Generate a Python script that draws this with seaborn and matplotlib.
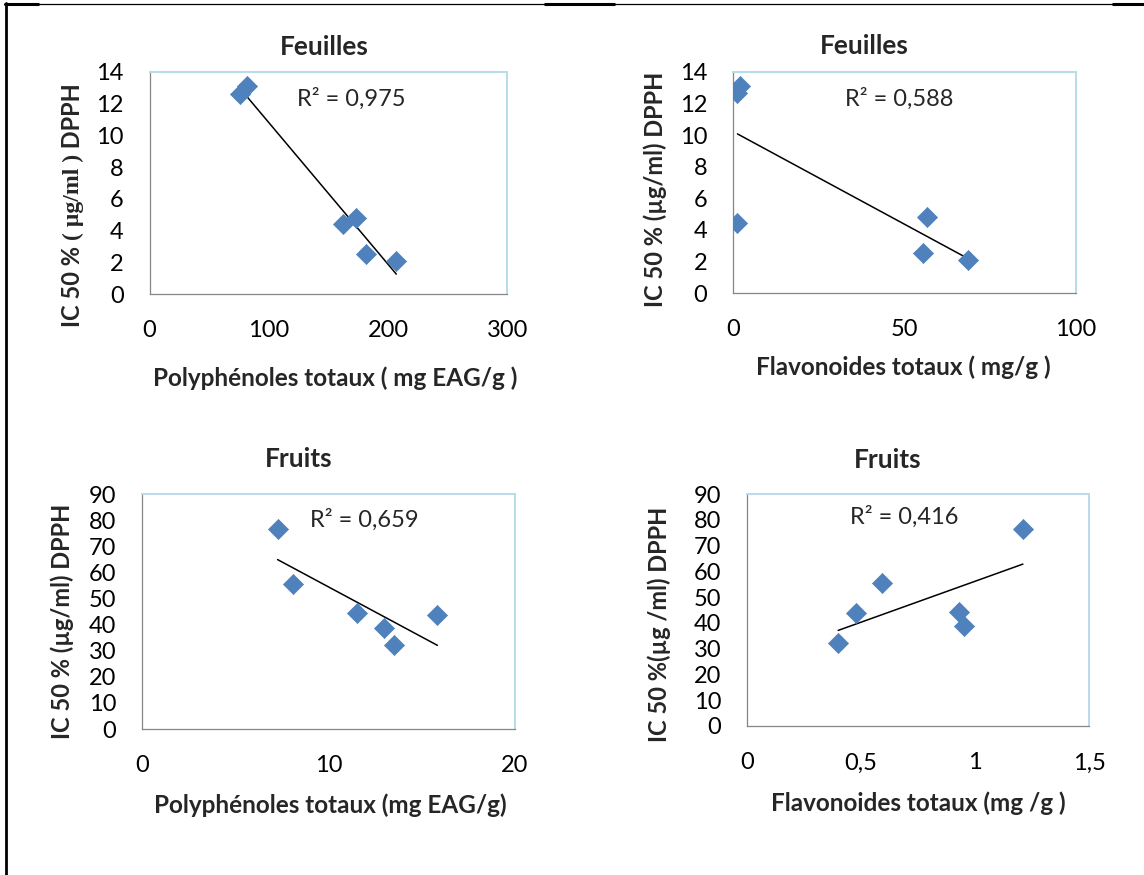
import numpy as np
import pandas as pd
import matplotlib
matplotlib.use("Agg")
import matplotlib.pyplot as plt
from matplotlib.lines import Line2D
import seaborn as sns

# IC50 (DPPH test) of the leaf and fruit extracts, µg/ml
ic50_feuilles = [12.64, 13.12, 4.44, 4.81, 2.55, 2.09]
polyphenols_feuilles = [75.5, 81.9, 162.5, 173.2, 181.8, 206.8]   # mg EAG/g
flavonoids_feuilles = [1.3, 2.0, 1.3, 56.7, 55.3, 68.4]           # mg/g

ic50_fruits = [76.5, 55.4, 44.4, 38.7, 32.3, 43.8]
polyphenols_fruits = [7.27, 8.07, 11.53, 13.0, 13.53, 15.84]      # mg EAG/g
flavonoids_fruits = [1.21, 0.59, 0.93, 0.95, 0.40, 0.48]          # mg/g

r2_values = [0.975, 0.588, 0.659, 0.416]
titles = ["Feuilles", "Feuilles", "Fruits", "Fruits"]
xlabels = ["Polyphénoles totaux ( mg EAG/g )", "Flavonoides totaux ( mg/g )",
           "Polyphénoles totaux (mg EAG/g)", "Flavonoides totaux (mg /g )"]
ylabel_parts = [("IC 50 % ", "( µg/ml )", " DPPH"),
                ("IC 50 % (µg/ml) DPPH", "", ""),
                ("IC 50 % (µg/ml) DPPH", "", ""),
                ("IC 50 %(µg /ml) DPPH", "", "")]
xticks = [[0, 100, 200, 300], [0, 50, 100], [0, 10, 20], [0, 0.5, 1, 1.5]]
xticklabels = [["0", "100", "200", "300"], ["0", "50", "100"],
               ["0", "10", "20"], ["0", "0,5", "1", "1,5"]]
yticks = [list(range(0, 15, 2)), list(range(0, 15, 2)),
          list(range(0, 91, 10)), list(range(0, 91, 10))]

sns.set_style("white")
plt.rcParams["font.family"] = ["Lato", "DejaVu Sans"]

W, H = 1144, 875
fig = plt.figure(figsize=(W / 100, H / 100), dpi=100)


def fx(px):
    return px / W


def fy(py):
    return 1 - py / H


def box(l, t, r, b):
    return [fx(l), fy(b), (r - l) / W, (b - t) / H]


layout = [
    dict(ax=box(149.5, 72, 507.5, 294), title=(324, 47), xlab=(335, 378),
         ylab=(73, 205), r2=(297, 99)),
    dict(ax=box(733, 72, 1076, 293), title=(864, 46), xlab=(903, 367),
         ylab=(655, 189), r2=(845, 99)),
    dict(ax=box(142, 494, 515, 729), title=(299, 459), xlab=(330, 805),
         ylab=(62, 621), r2=(310, 520)),
    dict(ax=box(747, 494, 1089, 726), title=(888, 460), xlab=(918, 803),
         ylab=(659, 624), r2=(850, 517)),
]

panels = [
    (polyphenols_feuilles, ic50_feuilles),
    (flavonoids_feuilles, ic50_feuilles),
    (polyphenols_fruits, ic50_fruits),
    (flavonoids_fruits, ic50_fruits),
]

marker_color = "#4F81BD"
axis_grey = "#868686"
frame_blue = "#B7DDE8"

ylabel_texts = []
for i, ((xv, yv), lay) in enumerate(zip(panels, layout)):
    ax = fig.add_axes(lay["ax"])
    df = pd.DataFrame({"x": xv, "y": yv})
    sns.regplot(data=df, x="x", y="y", ax=ax, scatter=False, ci=None,
                truncate=True, color="black", line_kws=dict(lw=1.1))
    sns.scatterplot(data=df, x="x", y="y", ax=ax, marker="D", s=105,
                    color=marker_color, edgecolor=marker_color, linewidth=0.5,
                    zorder=3)
    ax.set_xlim(xticks[i][0], xticks[i][-1])
    ax.set_ylim(yticks[i][0], yticks[i][-1])
    ax.set_xticks(xticks[i])
    ax.set_xticklabels(xticklabels[i])
    ax.set_yticks(yticks[i])
    ax.set_xlabel("")
    ax.set_ylabel("")
    for side in ("left", "bottom"):
        ax.spines[side].set_color(axis_grey)
        ax.spines[side].set_linewidth(0.9)
    for side in ("top", "right"):
        ax.spines[side].set_color(frame_blue)
        ax.spines[side].set_linewidth(1.4)
    ax.tick_params(axis="both", direction="out", length=6, width=0.9,
                   color=axis_grey, labelsize=17, labelcolor="black")
    ax.tick_params(axis="x", pad=13)
    ax.tick_params(axis="y", pad=12.5)
    ax.set_zorder(1)

    fig.text(fx(lay["title"][0]), fy(lay["title"][1]), titles[i],
             ha="center", va="center", fontsize=19, fontweight="bold")
    fig.text(fx(lay["xlab"][0]), fy(lay["xlab"][1]), xlabels[i],
             ha="center", va="center", fontsize=17.5, fontweight="bold")
    fig.text(fx(lay["r2"][0]), fy(lay["r2"][1]),
             "R² = " + f"{r2_values[i]:.3f}".replace(".", ","),
             ha="left", va="center", fontsize=17)

    # rotated y label, possibly made of several runs in different fonts
    pieces = []
    for j, part in enumerate(ylabel_parts[i]):
        if not part:
            continue
        fam = ["Liberation Serif", "DejaVu Serif"] if j == 1 else ["Lato", "DejaVu Sans"]
        t = fig.text(0, 0, part, rotation=90, ha="center", va="center",
                     fontsize=17, fontweight="bold", family=fam)
        pieces.append(t)
    ylabel_texts.append((pieces, lay["ylab"]))

# stack the y-label runs from bottom to top around their centre
fig.canvas.draw()
renderer = fig.canvas.get_renderer()
for pieces, (cx, cy) in ylabel_texts:
    heights = [p.get_window_extent(renderer).height for p in pieces]
    total = sum(heights)
    start = (H - cy) - total / 2  # display coords, from the bottom
    for p, h in zip(pieces, heights):
        p.set_position((cx / W, (start + h / 2) / H))
        start += h

# page frame lines
fig.add_artist(Line2D([fx(5), fx(1144)], [fy(3.5), fy(3.5)], color="black", lw=0.9))
for x0, x1 in [(5, 38), (545, 614), (1113, 1144)]:
    fig.add_artist(Line2D([fx(x0), fx(x1)], [fy(4), fy(4)], color="black", lw=2.2))
fig.add_artist(Line2D([fx(6), fx(6)], [fy(3), fy(875)], color="black", lw=2.0))

fig.savefig("out.png", dpi=100, facecolor="white")
